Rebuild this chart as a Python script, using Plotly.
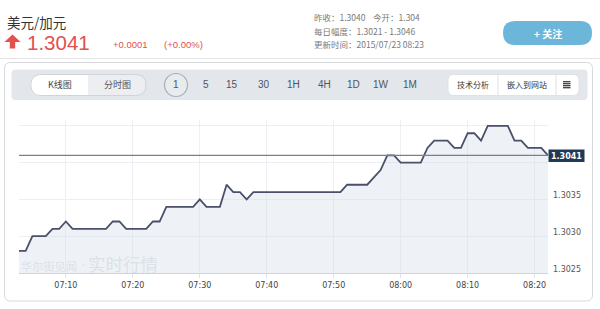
import pandas as pd
import plotly.graph_objects as go

# ---------------- data ----------------
pair_name = "美元/加元"
last_price = "1.3041"
change_abs = "+0.0001"
change_pct = "(+0.00%)"
info_lines = ["昨收：1.3040    今开：1.304",
              "每日幅度：1.3021 - 1.3046",
              "更新时间：2015/07/23 08:23"]
start_time = "2015-07-23 07:03"
rate = [1.3028, 1.3028, 1.3030, 1.3030, 1.3030, 1.3031, 1.3031, 1.3032,
        1.3031, 1.3031, 1.3031, 1.3031, 1.3031, 1.3031, 1.3032, 1.3032,
        1.3031, 1.3031, 1.3031, 1.3031, 1.3032, 1.3032, 1.3034, 1.3034,
        1.3034, 1.3034, 1.3034, 1.3035, 1.3034, 1.3034, 1.3034, 1.3037,
        1.3036, 1.3036, 1.3035, 1.3036, 1.3036, 1.3036, 1.3036, 1.3036,
        1.3036, 1.3036, 1.3036, 1.3036, 1.3036, 1.3036, 1.3036, 1.3036,
        1.3036, 1.3037, 1.3037, 1.3037, 1.3037, 1.3038, 1.3039, 1.3041,
        1.3041, 1.3040, 1.3040, 1.3040, 1.3040, 1.3042, 1.3043, 1.3043,
        1.3043, 1.3042, 1.3042, 1.3044, 1.3044, 1.3043, 1.3045, 1.3045,
        1.3045, 1.3045, 1.3043, 1.3043, 1.3042, 1.3042, 1.3042, 1.3041]
ytick_vals = [1.3025, 1.3030, 1.3035]
ytick_text = ["1.3025", "1.3030", "1.3035"]
y_range = [1.3025, 1.30458]
periods = ["1", "5", "15", "30", "1H", "4H", "1D", "1W", "1M"]
period_x = [176, 206, 232, 264, 293, 324, 353, 381, 410]

times = pd.date_range(start_time, periods=len(rate), freq="min")

# ---------------- geometry helpers ----------------
W, H = 600, 309
L, R, T, B = 19, 548, 120, 273


def X(px):
    return (px - L) / (R - L)


def Y(py):
    return (B - py) / (B - T)


def rrect(x0, y0, x1, y1, r, corners=(1, 1, 1, 1)):
    """rounded rect path in pixel coords -> paper path. corners: tl,tr,br,bl"""
    tl, tr, br, bl = [r * c for c in corners]

    def p(x, y):
        return f"{X(x):.5f},{Y(y):.5f}"
    s = f"M {p(x0 + tl, y0)} L {p(x1 - tr, y0)} "
    s += f"Q {p(x1, y0)} {p(x1, y0 + tr)} " if tr else ""
    s += f"L {p(x1, y1 - br)} "
    s += f"Q {p(x1, y1)} {p(x1 - br, y1)} " if br else ""
    s += f"L {p(x0 + bl, y1)} "
    s += f"Q {p(x0, y1)} {p(x0, y1 - bl)} " if bl else ""
    s += f"L {p(x0, y0 + tl)} "
    s += f"Q {p(x0, y0)} {p(x0 + tl, y0)} " if tl else ""
    return s + "Z"


shapes = []
ann = []
CJK = "Noto Sans CJK SC, sans-serif"
NUM = "Liberation Sans, Arial, sans-serif"


def box(path, fill, line=None, lw=1, layer="below"):
    shapes.append(dict(type="path", xref="paper", yref="paper", path=path,
                       fillcolor=fill,
                       line=dict(color=line or "rgba(0,0,0,0)", width=lw if line else 0),
                       layer=layer))


def text(px, py, t, size, color, family=CJK, anchor="left", weight=None):
    f = dict(size=size, color=color, family=family)
    if weight:
        f["weight"] = weight
    ann.append(dict(xref="paper", yref="paper", x=X(px), y=Y(py), text=t,
                    showarrow=False, xanchor=anchor, yanchor="middle", font=f))


# ---------------- header ----------------
text(5, 22, pair_name, 13.5, "#333333")
# red up arrow
box(f"M {X(4.5)},{Y(42)} L {X(12.5)},{Y(34.5)} L {X(20.5)},{Y(42)} L {X(15.2)},{Y(42)} "
    f"L {X(15.2)},{Y(48.5)} L {X(9.8)},{Y(48.5)} L {X(9.8)},{Y(42)} Z", "#e4504d")
text(25, 42, last_price, 20.5, "#e4504d", family=NUM)
text(111, 44.5, change_abs, 9.5, "#e4504d", family=NUM)
text(162, 44.5, change_pct, 9.5, "#e4504d", family=NUM)
for i, ln in enumerate(info_lines):
    text(312, 17.5 + i * 13.2, ln, 8.5, "#7a7a7a")
box(rrect(503, 21, 592, 45, 12), "#6cb6da")
text(547.5, 33, "+ 关注", 10, "#ffffff", anchor="center", weight="bold")
shapes.append(dict(type="line", xref="paper", yref="paper", x0=X(0), x1=X(600),
                   y0=Y(58.5), y1=Y(58.5), line=dict(color="#e4e4e4", width=1), layer="below"))

# ---------------- panel ----------------
box(rrect(4.5, 62.5, 592.5, 301, 6), "#ffffff", "#d7d9dc", 1)
# toolbar band
box(rrect(11.5, 69.5, 587.5, 100, 4), "#e3e7eb")
CY = 85
# view toggle pill
box(rrect(31, CY - 10.5, 146, CY + 10.5, 10.5), "#eceef1", "#cfd4d9", 1)
box(rrect(31.5, CY - 10, 88, CY + 10, 10, corners=(1, 0, 0, 1)), "#ffffff")
text(59.5, CY, "K线图", 9, "#444444", anchor="center")
text(117, CY, "分时图", 9, "#555555", anchor="center")
# period circle
shapes.append(dict(type="circle", xref="paper", yref="paper",
                   x0=X(176 - 11.5), x1=X(176 + 11.5), y0=Y(CY + 11.5), y1=Y(CY - 11.5),
                   fillcolor="#e9ecef", line=dict(color="#a8afb7", width=1.2), layer="below"))
for lbl, px in zip(periods, period_x):
    text(px, CY, lbl, 10, "#4d5561", family=NUM, anchor="center")
# right button group
box(rrect(448, CY - 10.5, 579, CY + 10.5, 6), "#ffffff", "#d9dde2", 0.8)
for dx in (498, 556):
    shapes.append(dict(type="line", xref="paper", yref="paper", x0=X(dx), x1=X(dx),
                       y0=Y(CY - 10), y1=Y(CY + 10), line=dict(color="#dde1e5", width=1), layer="below"))
text(473, CY, "技术分析", 8, "#333333", anchor="center")
text(527, CY, "嵌入到网站", 8, "#333333", anchor="center")
for k in range(4):
    yy = CY - 3.3 + k * 2.0
    shapes.append(dict(type="line", xref="paper", yref="paper", x0=X(563), x1=X(570.5),
                       y0=Y(yy), y1=Y(yy), line=dict(color="#3a3f47", width=1.3), layer="below"))

# ---------------- watermark ----------------
text(18.5, 265.5, "华尔街见闻", 11.2, "#dce1e7")
text(79, 264, "·", 14, "#dce1e7", family=NUM)
text(86, 263, "实时行情", 17.5, "#dce1e7")

# ---------------- price line & tag ----------------
shapes.append(dict(type="line", xref="paper", yref="y", x0=0, x1=1,
                   y0=rate[-1], y1=rate[-1], line=dict(color="#7d7f83", width=1.3), layer="above"))
box(rrect(548.5, 149.5, 584.5, 162, 0), "#1f3956", layer="above")
text(566.5, 156, last_price, 8, "#ffffff", family="DejaVu Sans, sans-serif",
     anchor="center", weight="bold")

for v, t in zip(ytick_vals, ytick_text):
    ann.append(dict(xref="paper", yref="y", x=X(551), y=v, yshift=4, text=t,
                    showarrow=False, xanchor="left", yanchor="middle",
                    font=dict(size=8, color="#555555", family="DejaVu Sans, sans-serif")))

fig = go.Figure()
fig.add_trace(go.Scatter(x=times, y=rate, mode="lines",
                         line=dict(color="#4a5068", width=1.8, shape="linear"),
                         fill="tozeroy", fillcolor="rgba(210,220,234,0.38)",
                         hoverinfo="skip", showlegend=False))

fig.update_layout(
    width=W, height=H,
    margin=dict(l=L, r=W - R, t=T, b=H - B, pad=0),
    paper_bgcolor="#ffffff", plot_bgcolor="rgba(0,0,0,0)",
    showlegend=False,
    shapes=shapes, annotations=ann,
    xaxis=dict(type="date", range=[times[0], times[-1]],
               tick0="2015-07-23 07:10", dtick=600000, tickformat="%H:%M",
               showgrid=True, gridcolor="#eceff3", gridwidth=1,
               ticks="outside", ticklen=4, tickcolor="#dfe5ec",
               showline=True, linecolor="#cbd5df", linewidth=1,
               zeroline=False, fixedrange=True,
               tickfont=dict(size=8, color="#444444", family="DejaVu Sans, sans-serif")),
    yaxis=dict(range=y_range, tick0=1.3025, dtick=0.0005,
               showgrid=True, gridcolor="#eceff3", gridwidth=1,
               showticklabels=False, zeroline=False, fixedrange=True),
)

fig.write_html("out.html", config=dict(displayModeBar=False))
